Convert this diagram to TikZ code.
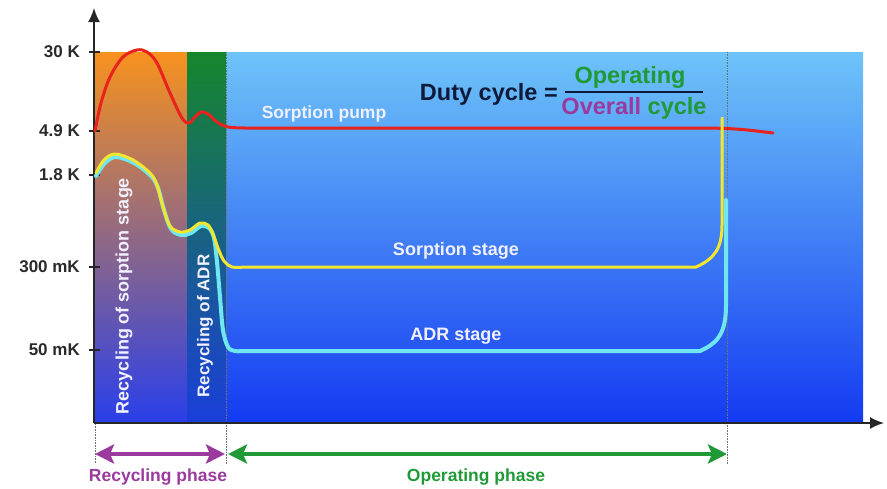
\documentclass[tikz,border=0pt]{standalone}
\usepackage{fontspec}
\setmainfont{Liberation Sans}
\usetikzlibrary{arrows.meta}
\definecolor{orTop}{HTML}{F7921E}
\definecolor{orMid}{HTML}{8A5C8C}
\definecolor{orBot}{HTML}{2A3FEA}
\definecolor{grTop}{HTML}{16862C}
\definecolor{grMid}{HTML}{1D5A86}
\definecolor{grBot}{HTML}{1A3EDA}
\definecolor{blTop}{HTML}{6EC4F8}
\definecolor{blMid}{HTML}{3A7EF0}
\definecolor{blBot}{HTML}{143BF2}
\definecolor{redc}{HTML}{E8221C}
\definecolor{yelc}{HTML}{F2E62E}
\definecolor{cyac}{HTML}{6FE6F0}
\definecolor{navy}{HTML}{0E1A3A}
\definecolor{grnc}{HTML}{1F9A36}
\definecolor{purc}{HTML}{9A3A9E}
\definecolor{labc}{HTML}{2A2A2A}
\begin{document}
\begin{tikzpicture}[x=1pt,y=-1pt,
  axislab/.style={font=\fontsize{17}{19}\selectfont\bfseries, text=labc, anchor=east, inner sep=0pt},
  wlab/.style={font=\fontsize{18}{20}\selectfont\bfseries, text=white!94!blue, inner sep=0pt},
  formula/.style={font=\fontsize{23.5}{26}\selectfont\bfseries, inner sep=0pt},
  phaselab/.style={font=\fontsize{17.5}{20}\selectfont\bfseries, inner sep=0pt},
  axisline/.style={line width=1.8pt, black!85, -{Latex[length=14pt,width=12pt]}},
  tick/.style={line width=1.8pt, black!85},
  guide/.style={densely dotted, line width=0.6pt, black!55},
  phasearrow/.style={line width=4.5pt, {Stealth[length=19pt,width=19pt,inset=4pt]}-{Stealth[length=19pt,width=19pt,inset=4pt]}},
  curve/.style={line width=3pt, line join=round, line cap=round}]
\useasboundingbox (0,0) rectangle (887,488);
% backgrounds
\shade[top color=orTop, middle color=orMid, bottom color=orBot] (95,52) rectangle (187,422);
\shade[top color=grTop, middle color=grMid, bottom color=grBot] (187,52) rectangle (226,422);
\shade[top color=blTop, middle color=blMid, bottom color=blBot] (226,52) rectangle (863,422);
% guide lines
\coordinate (g0t) at (95,424); \coordinate (g0b) at (95,464);
\coordinate (g1t) at (226,52); \coordinate (g1b) at (226,464);
\coordinate (g2t) at (727,52); \coordinate (g2b) at (727,464);
\draw[guide] (g0t) -- (g0b);
\draw[guide] (g1t) -- (g1b);
\draw[guide] (g2t) -- (g2b);
% axes
\coordinate (O) at (94,423);
\coordinate (Y) at (94,8);
\coordinate (X) at (884,423);
\draw[axisline] (O) -- (Y);
\draw[axisline] (O) -- (X);
% ticks and labels
\foreach \yy/\tx/\nm in {52/30 K/t1, 131/4.9 K/t2, 175/1.8 K/t3, 267/300 mK/t4, 350/50 mK/t5}{
  \draw[tick] (89,\yy) -- (100,\yy);
  \node[axislab] (\nm) at (80,\yy) {\tx};
}
% curves
\draw[curve, redc] plot[smooth, tension=0.55] coordinates {(95,131) (101,103) (110,77) (123,57) (137,50) (147,52) (157,63) (170,93) (182,118) (189,123) (195,117) (201,112) (208,114) (217,122) (228,127) (245,128)} -- (700,128) .. controls (740,128) and (755,131) .. (773,133);
\draw[curve, cyac, line width=4pt] plot[smooth, tension=0.55] coordinates {(96,176) (105,163) (116,157) (134,163) (151,176) (158,188) (164,210) (171,229) (181,235) (191,233) (201,226) (209,228) (214,238) (217,262) (220,297) (223,330) (228,347) (235,351) (245,351)} -- (700,351) .. controls (718,343) and (726,333) .. (726,305) -- (726,200);
\draw[curve, yelc] plot[smooth, tension=0.55] coordinates {(96,173) (104,160) (115,154) (133,160) (150,173) (157,185) (163,207) (170,226) (180,232) (190,230) (200,223) (208,225) (213,234) (218,248) (224,261) (232,267) (245,267)} -- (696,267) .. controls (714,259) and (722,249) .. (722,225) -- (722,118);
% labels in plot
\node[wlab, font=\fontsize{17.5}{19}\selectfont\bfseries] (pump) at (324,114) {Sorption pump};
\node[wlab] (sstage) at (456,251) {Sorption stage};
\node[wlab] (astage) at (456,336) {ADR stage};
\node[wlab, rotate=90] (recs) at (124,296) {Recycling of sorption stage};
\node[wlab, rotate=90, font=\fontsize{17}{19}\selectfont\bfseries] (reca) at (205,326) {Recycling of ADR};
% formula
\node[formula, text=navy, anchor=base east] (duty) at (558,100) {Duty cycle =};
\node[formula, text=grnc, anchor=base] (num) at (630,83) {Operating};
\node[formula, anchor=base] (den) at (634,114) {\textcolor{purc}{Overall} \textcolor{grnc}{cycle}};
\draw[line width=1.8pt, navy] (565,92) -- (703,92);
% phase arrows
\coordinate (rL) at (95,454); \coordinate (rR) at (225,454);
\coordinate (oL) at (228,454); \coordinate (oR) at (727,454);
\draw[phasearrow, purc] (rL) -- (rR);
\draw[phasearrow, grnc] (oL) -- (oR);
\node[phaselab, text=purc] (rph) at (158,477) {Recycling phase};
\node[phaselab, text=grnc] (oph) at (476,477) {Operating phase};
\end{tikzpicture}
\end{document}
